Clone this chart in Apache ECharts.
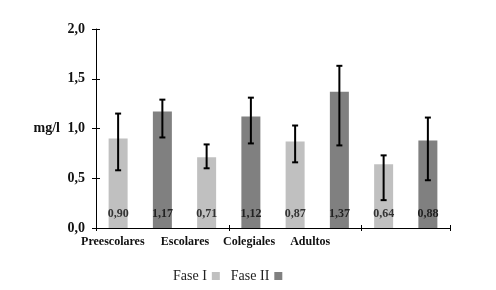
<!DOCTYPE html>
<html>
<head>
<meta charset="utf-8">
<script src="https://cdn.jsdelivr.net/npm/echarts@6/dist/echarts.min.js"></script>
<style>
html,body{margin:0;padding:0;background:#fff}
#chart{width:496px;height:290px}
</style>
</head>
<body>
<div id="chart"></div>
<script>
// groups and where their labels sit on the axis (in bar slots, 0..8)
const groups = ["Preescolares", "Escolares", "Colegiales", "Adultos"];
const groupLabelPos = [0.38, 2.01, 3.46, 4.84];

const faseI = [0.90, 0.71, 0.87, 0.64];
const faseII = [1.17, 1.12, 1.37, 0.88];
const faseILow = [0.58, 0.60, 0.66, 0.28];
const faseIHigh = [1.15, 0.84, 1.03, 0.73];
const faseIILow = [0.91, 0.85, 0.83, 0.48];
const faseIIHigh = [1.29, 1.31, 1.63, 1.11];

const serif = "Liberation Serif";
const colI = "#c0c0c0";
const colII = "#808080";

// one slot per bar, alternating Fase I / Fase II
let slots = [], dataI = [], dataII = [], errs = [];
groups.forEach((g, i) => {
    slots.push(g + " I", g + " II");
    dataI.push(faseI[i], "-");
    dataII.push("-", faseII[i]);
    errs.push([slots.length - 2, faseILow[i], faseIHigh[i]]);
    errs.push([slots.length - 1, faseIILow[i], faseIIHigh[i]]);
});

const fmt = v => v.toFixed(2).replace(".", ",");

let chart = echarts.init(document.getElementById("chart"));
let barLabel = (color) => ({
    show: true,
    position: "insideBottom",
    distance: 8,
    formatter: p => fmt(p.value),
    fontFamily: serif,
    fontWeight: "bold",
    fontSize: 12,
    color: color
});
let option = {
    animation: false,
    textStyle: { fontFamily: serif },
    grid: { left: 96, right: 46, top: 29, bottom: 62 },
    legend: {
        left: 168,
        top: 264,
        align: "right",
        itemWidth: 8,
        itemHeight: 8,
        itemGap: 11,
        icon: "rect",
        textStyle: { fontFamily: serif, fontSize: 14, color: "#222" },
        data: ["Fase I", "Fase II"]
    },
    xAxis: [
        {
            type: "category",
            data: slots,
            axisLine: { lineStyle: { color: "#000", width: 1 } },
            axisTick: { show: true, length: 3, lineStyle: { color: "#000" } },
            axisLabel: { show: false }
        },
        {
            type: "value",
            min: 0,
            max: 8,
            position: "bottom",
            axisLine: { show: false },
            axisTick: { show: false },
            splitLine: { show: false },
            axisLabel: {
                customValues: groupLabelPos,
                formatter: v => groups[groupLabelPos.indexOf(v)] || "",
                fontFamily: serif,
                fontWeight: "bold",
                fontSize: 12,
                color: "#111",
                margin: 8
            }
        },
        {
            // inner half of the crossing ticks
            type: "category",
            data: slots,
            position: "bottom",
            axisLine: { show: false },
            axisTick: { show: true, inside: true, length: 3, lineStyle: { color: "#000" } },
            axisLabel: { show: false }
        }
    ],
    yAxis: [
        {
            type: "value",
            min: 0,
            max: 2,
            interval: 0.5,
            name: "mg/l",
            nameLocation: "middle",
            nameRotate: 0,
            nameGap: 36,
            nameTextStyle: { fontFamily: serif, fontWeight: "bold", fontSize: 14, color: "#111" },
            axisLine: { show: true, lineStyle: { color: "#000" } },
            axisTick: { show: true, length: 4, lineStyle: { color: "#000" } },
            splitLine: { show: false },
            axisLabel: {
                fontFamily: serif,
                fontWeight: "bold",
                fontSize: 14,
                color: "#111",
                margin: 11,
                formatter: v => v.toFixed(1).replace(".", ",")
            }
        },
        {
            type: "value",
            min: 0,
            max: 2,
            interval: 0.5,
            position: "left",
            axisLine: { show: false },
            axisTick: { show: true, inside: true, length: 4, lineStyle: { color: "#000" } },
            splitLine: { show: false },
            axisLabel: { show: false }
        }
    ],
    series: [
        {
            name: "Fase I",
            type: "bar",
            data: dataI,
            barWidth: 19,
            barGap: "-100%",
            itemStyle: { color: colI },
            label: barLabel("#333")
        },
        {
            name: "Fase II",
            type: "bar",
            data: dataII,
            barWidth: 19,
            barGap: "-100%",
            itemStyle: { color: colII },
            label: barLabel("#222")
        },
        {
            type: "custom",
            data: errs,
            z: 10,
            renderItem: (params, api) => {
                let x = api.value(0);
                let lo = api.coord([x, api.value(1)]);
                let hi = api.coord([x, api.value(2)]);
                let w = 3;
                let st = { stroke: "#000", lineWidth: 2 };
                return {
                    type: "group",
                    children: [
                        { type: "line", shape: { x1: hi[0], y1: hi[1], x2: lo[0], y2: lo[1] }, style: st },
                        { type: "line", shape: { x1: hi[0] - w, y1: hi[1], x2: hi[0] + w, y2: hi[1] }, style: st },
                        { type: "line", shape: { x1: lo[0] - w, y1: lo[1], x2: lo[0] + w, y2: lo[1] }, style: st }
                    ]
                };
            }
        }
    ]
};
chart.setOption(option);
</script>
</body>
</html>
